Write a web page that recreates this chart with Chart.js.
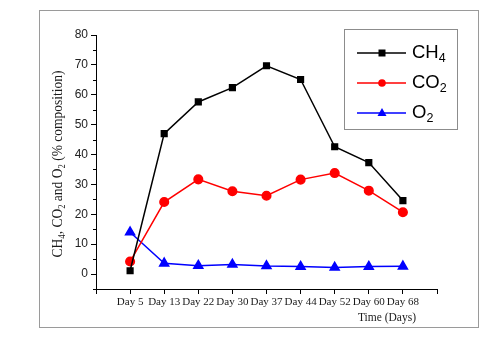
<!DOCTYPE html>
<html>
<head>
<meta charset="utf-8">
<script src="https://cdn.jsdelivr.net/npm/chart.js@4.4.1/dist/chart.umd.min.js"></script>
<style>
  html, body { margin: 0; padding: 0; background: #fff; }
  #wrap { width: 498px; height: 349px; }
</style>
</head>
<body>
<div id="wrap"><canvas id="gas" width="498" height="349"></canvas></div>
<script>
"use strict"

// dagar (kategorier) och gasernas halter i procent
const days = ["Day 5", "Day 13", "Day 22", "Day 30", "Day 37", "Day 44", "Day 52", "Day 60", "Day 68"]
const ch4 = [1.1, 47.0, 57.6, 62.4, 69.7, 65.1, 42.6, 37.3, 24.6]
const co2 = [4.2, 24.1, 31.7, 27.7, 26.2, 31.6, 33.8, 27.9, 20.7]
const o2 = [14.0, 3.6, 2.8, 3.2, 2.7, 2.5, 2.2, 2.5, 2.6]
const yTicks = [0, 10, 20, 30, 40, 50, 60, 70, 80]

// etiketter med nedsänkt siffra: [huvudtext, index]
const seriesNames = [["CH", "4"], ["CO", "2"], ["O", "2"]]

function toPoints(values){
    return values.map((v, i) => ({x: i + 1, y: v}))
}

// ritar text där delar kan vara nedsänkta
function drawParts(ctx, parts, x, y, size, subSize, family){
    let cx = x
    parts.forEach(p => {
        if (p.sub){
            ctx.font = subSize + "px " + family
            ctx.fillText(p.t, cx, y + size * 0.3)
        } else {
            ctx.font = size + "px " + family
            ctx.fillText(p.t, cx, y)
        }
        cx += ctx.measureText(p.t).width
    })
    return cx - x
}

function partsWidth(ctx, parts, size, subSize, family){
    let w = 0
    parts.forEach(p => {
        ctx.font = (p.sub ? subSize : size) + "px " + family
        w += ctx.measureText(p.t).width
    })
    return w
}

const decorPlugin = {
    id: 'decor',
    beforeDraw(chart){
        const ctx = chart.ctx
        ctx.save()
        ctx.fillStyle = "#fff"
        ctx.fillRect(0, 0, chart.width, chart.height)
        ctx.strokeStyle = "#9a9a9a"
        ctx.lineWidth = 1
        ctx.strokeRect(39.5, 10.5, 439, 317)
        ctx.restore()
    },
    afterDraw(chart){
        const ctx = chart.ctx
        const y = chart.scales.y
        const x = chart.scales.x
        ctx.save()

        // små mellanmarkeringar på y-axeln
        ctx.strokeStyle = "#000"
        ctx.lineWidth = 1
        for (let v = -5; v <= 80; v += 10){
            const py = Math.round(y.getPixelForValue(v)) + 0.5
            ctx.beginPath()
            ctx.moveTo(x.left - 3, py)
            ctx.lineTo(x.left, py)
            ctx.stroke()
        }

        // y-axelns titel (lite hoptryckt på längden som i originalet)
        const serif = "'Liberation Serif', 'Times New Roman', serif"
        const titleParts = [
            {t: "CH"}, {t: "4", sub: true}, {t: ", CO"}, {t: "2", sub: true},
            {t: " and O"}, {t: "2", sub: true}, {t: " (% composition)"}
        ]
        ctx.fillStyle = "#1a1a1a"
        ctx.textBaseline = "middle"
        ctx.textAlign = "left"
        const tw = partsWidth(ctx, titleParts, 15.5, 10, serif)
        ctx.translate(58, (y.top + y.bottom) / 2 + 2)
        ctx.rotate(-Math.PI / 2)
        ctx.scale(0.87, 1)
        drawParts(ctx, titleParts, -tw / 2, 0, 15.5, 10, serif)
        ctx.setTransform(1, 0, 0, 1, 0, 0)

        // x-axelns titel
        ctx.font = "11.5px " + serif
        ctx.textAlign = "right"
        ctx.fillText("Time (Days)", 416, 318)

        // förklaring
        ctx.strokeStyle = "#8c8c8c"
        ctx.strokeRect(344.5, 29.5, 113, 100)
        const sans = "'Liberation Sans', Arial, sans-serif"
        chart.data.datasets.forEach((ds, i) => {
            const ry = 53 + i * 30
            ctx.strokeStyle = ds.borderColor
            ctx.lineWidth = 1.5
            ctx.beginPath()
            ctx.moveTo(357, ry)
            ctx.lineTo(406, ry)
            ctx.stroke()
            ctx.fillStyle = ds.borderColor
            ctx.beginPath()
            if (ds.pointStyle === 'rect'){
                ctx.rect(378.5, ry - 3.5, 7, 7)
            } else if (ds.pointStyle === 'circle'){
                ctx.arc(382, ry, 3.8, 0, Math.PI * 2)
            } else {
                ctx.moveTo(382, ry - 5)
                ctx.lineTo(386.5, ry + 3)
                ctx.lineTo(377.5, ry + 3)
                ctx.closePath()
            }
            ctx.fill()
            ctx.fillStyle = "#000"
            ctx.textAlign = "left"
            ctx.textBaseline = "middle"
            const n = seriesNames[i]
            drawParts(ctx, [{t: n[0]}, {t: n[1], sub: true}], 412, ry, 18.5, 12.5, sans)
        })
        ctx.restore()
    }
}

const el = document.getElementById('gas').getContext('2d')
new Chart(el, {
    type: 'line',
    data: {
        datasets: [{
            label: "CH4",
            data: toPoints(ch4),
            borderColor: "#000000",
            backgroundColor: "#000000",
            pointStyle: 'rect',
            pointRadius: 4,
            borderWidth: 1.5
        }, {
            label: "CO2",
            data: toPoints(co2),
            borderColor: "#ff0000",
            backgroundColor: "#ff0000",
            pointStyle: 'circle',
            pointRadius: 4.3,
            borderWidth: 1.5
        }, {
            label: "O2",
            data: toPoints(o2),
            borderColor: "#0000ff",
            backgroundColor: "#0000ff",
            pointStyle: 'triangle',
            pointRadius: 5.2,
            borderWidth: 1.5
        }]
    },
    options: {
        responsive: false,
        animation: false,
        layout: {
            padding: {left: 0, top: 35, right: 61, bottom: 0}
        },
        plugins: {
            legend: {display: false},
            tooltip: {enabled: false}
        },
        scales: {
            x: {
                type: 'linear',
                min: 0,
                max: 10,
                afterFit(scale){ scale.height = 60 },
                afterBuildTicks(scale){
                    scale.ticks = [0, 1, 2, 3, 4, 5, 6, 7, 8, 9, 10].map(v => ({value: v}))
                },
                ticks: {
                    autoSkip: false,
                    maxRotation: 0,
                    padding: 2,
                    color: "#1a1a1a",
                    font: {family: "'Liberation Serif', 'Times New Roman', serif", size: 11},
                    callback: v => days[v - 1] || ''
                },
                grid: {
                    drawOnChartArea: false,
                    drawTicks: true,
                    tickLength: 5,
                    tickColor: "#000"
                },
                border: {color: "#000", width: 1}
            },
            y: {
                min: -5,
                max: 80,
                afterFit(scale){ scale.width = 96 },
                afterBuildTicks(scale){
                    scale.ticks = yTicks.map(v => ({value: v}))
                },
                ticks: {
                    autoSkip: false,
                    padding: 3,
                    color: "#222",
                    font: {family: "'Liberation Sans', Arial, sans-serif", size: 12}
                },
                grid: {
                    drawOnChartArea: false,
                    drawTicks: true,
                    tickLength: 5,
                    tickColor: "#000"
                },
                border: {color: "#000", width: 1}
            }
        }
    },
    plugins: [decorPlugin]
})
</script>
</body>
</html>
